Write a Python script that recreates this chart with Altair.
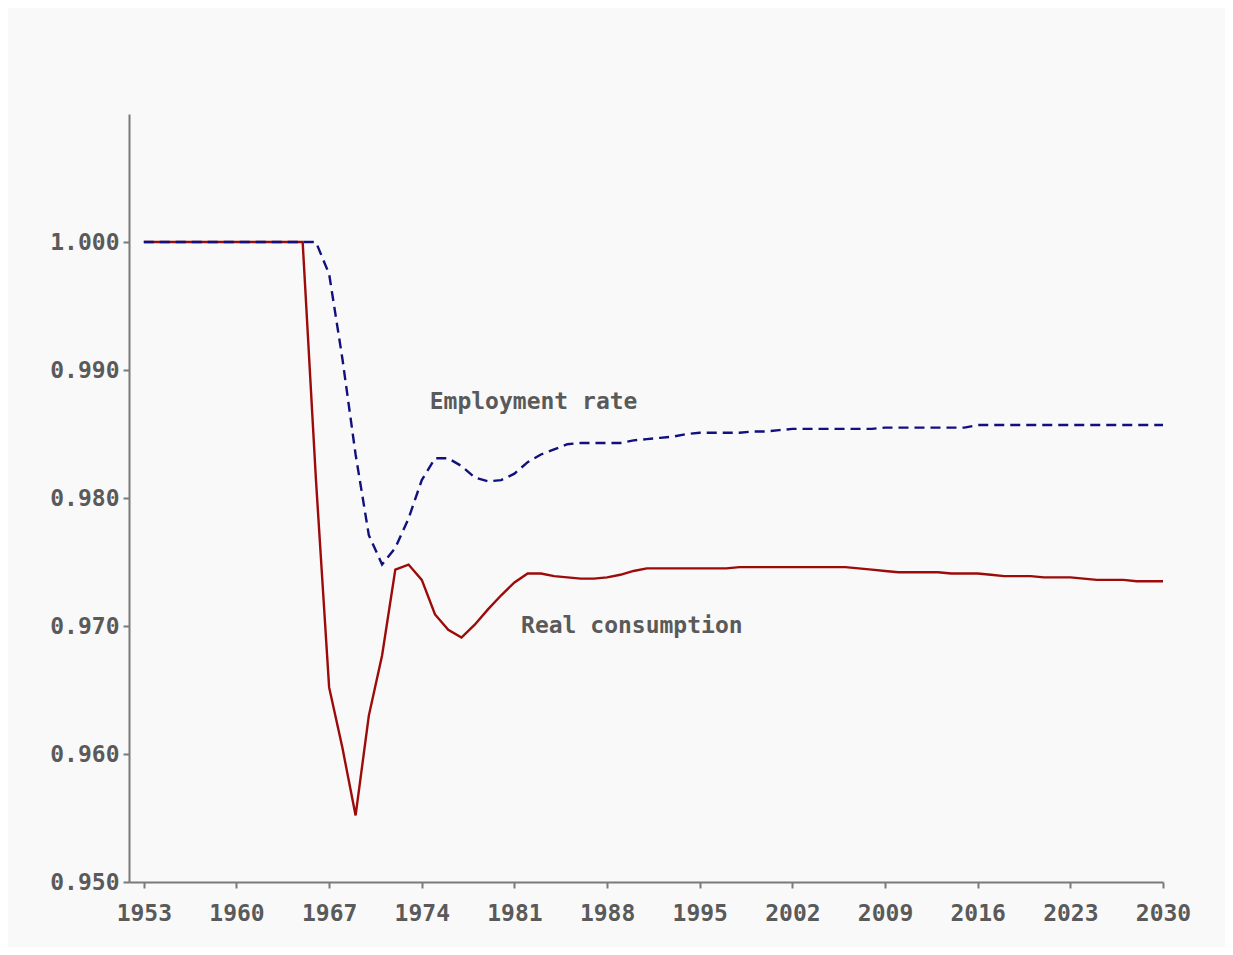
import altair as alt
import pandas as pd

years = list(range(1953, 2031))

real_consumption = [
    1.0, 1.0, 1.0, 1.0, 1.0, 1.0, 1.0, 1.0, 1.0, 1.0, 1.0, 1.0, 1.0,          # 1953-1965
    0.9815, 0.9652, 0.9605, 0.9552, 0.9630, 0.9677, 0.9744, 0.9748,          # 1966-1973
    0.9736, 0.9709, 0.9697, 0.9691, 0.9701, 0.9713, 0.9724, 0.9734,          # 1974-1981
    0.9741, 0.9741, 0.9739, 0.9738, 0.9737, 0.9737, 0.9738, 0.9740,          # 1982-1989
    0.9743, 0.9745,                                                          # 1990-1991
    0.9745, 0.9745, 0.9745, 0.9745, 0.9745, 0.9745,                          # 1992-1997
    0.9746, 0.9746, 0.9746, 0.9746, 0.9746, 0.9746, 0.9746, 0.9746, 0.9746,  # 1998-2006
    0.9745, 0.9744, 0.9743, 0.9742, 0.9742, 0.9742, 0.9742, 0.9741,          # 2007-2014
    0.9741, 0.9741, 0.9740, 0.9739, 0.9739, 0.9739, 0.9738, 0.9738,          # 2015-2022
    0.9738, 0.9737, 0.9736, 0.9736, 0.9736, 0.9735, 0.9735, 0.9735,          # 2023-2030
]

employment_rate = [
    1.0, 1.0, 1.0, 1.0, 1.0, 1.0, 1.0, 1.0, 1.0, 1.0, 1.0, 1.0, 1.0, 1.0,     # 1953-1966
    0.9975, 0.9909, 0.9834, 0.9771, 0.9748, 0.9761, 0.9784, 0.9814,          # 1967-1974
    0.9831, 0.9831, 0.9825, 0.9816, 0.9813, 0.9814, 0.9819, 0.9828,          # 1975-1982
    0.9834, 0.9838, 0.9842, 0.9843, 0.9843, 0.9843, 0.9843, 0.9845,          # 1983-1990
    0.9846, 0.9847, 0.9848, 0.9850, 0.9851, 0.9851, 0.9851, 0.9851,          # 1991-1998
    0.9852, 0.9852, 0.9853, 0.9854,                                          # 1999-2002
    0.9854, 0.9854, 0.9854, 0.9854, 0.9854, 0.9854,                          # 2003-2008
    0.9855, 0.9855, 0.9855, 0.9855, 0.9855, 0.9855, 0.9855,                  # 2009-2015
    0.9857, 0.9857, 0.9857, 0.9857, 0.9857, 0.9857, 0.9857, 0.9857,          # 2016-2023
    0.9857, 0.9857, 0.9857, 0.9857, 0.9857, 0.9857, 0.9857,                  # 2024-2030
]

x_ticks = [1953, 1960, 1967, 1974, 1981, 1988, 1995, 2002, 2009, 2016, 2023, 2030]
y_ticks = [0.95, 0.96, 0.97, 0.98, 0.99, 1.0]

label_text = ["Employment rate", "Real consumption"]
label_year = [1974.6, 1981.5]
label_value = [0.9875, 0.9700]

FONT = "DejaVu Sans Mono"
TEXT_COLOR = "#5a5a5a"
AXIS_COLOR = "#7a7a7a"

df_cons = pd.DataFrame({"year": years, "value": real_consumption})
df_emp = pd.DataFrame({"year": years, "value": employment_rate})
df_lab = pd.DataFrame({"year": label_year, "value": label_value, "text": label_text})

x_scale = alt.Scale(domain=[1951.88, 2030], nice=False, zero=False)
y_scale = alt.Scale(domain=[0.95, 1.01], nice=False, zero=False)

x_axis = alt.Axis(
    values=x_ticks, format="d", title=None, grid=False,
    domainColor=AXIS_COLOR, domainWidth=2, tickColor=AXIS_COLOR, tickWidth=2, tickSize=6,
    labelFont=FONT, labelFontSize=23, labelFontWeight="bold", labelColor=TEXT_COLOR,
    labelPadding=14, labelFlush=False, labelOverlap=False,
)
y_axis = alt.Axis(
    values=y_ticks, format=".3f", title=None, grid=False,
    domainColor=AXIS_COLOR, domainWidth=2, tickColor=AXIS_COLOR, tickWidth=2, tickSize=6,
    labelFont=FONT, labelFontSize=23, labelFontWeight="bold", labelColor=TEXT_COLOR,
    labelPadding=4, labelFlush=False, labelOverlap=False,
)

cons = alt.Chart(df_cons).mark_line(color="#9c0a0a", strokeWidth=2.4).encode(
    x=alt.X("year:Q", scale=x_scale, axis=x_axis),
    y=alt.Y("value:Q", scale=y_scale, axis=y_axis),
)

emp = alt.Chart(df_emp).mark_line(color="#10107f", strokeWidth=2.4, strokeDash=[10, 6]).encode(
    x=alt.X("year:Q", scale=x_scale),
    y=alt.Y("value:Q", scale=y_scale),
)

labels = alt.Chart(df_lab).mark_text(
    align="left", baseline="middle", font=FONT, fontSize=23, fontWeight="bold", color=TEXT_COLOR
).encode(
    x=alt.X("year:Q", scale=x_scale),
    y=alt.Y("value:Q", scale=y_scale),
    text="text:N",
)

chart = alt.layer(cons, emp, labels).properties(
    width=1034,
    height=768,
    background="#f9f9f9",
    autosize=alt.AutoSizeParams(type="none"),
    padding={"left": 121, "top": 106, "right": 62, "bottom": 65},
).configure_view(stroke=None)

chart.save("out.html", embed_options={"renderer": "svg", "actions": False})
